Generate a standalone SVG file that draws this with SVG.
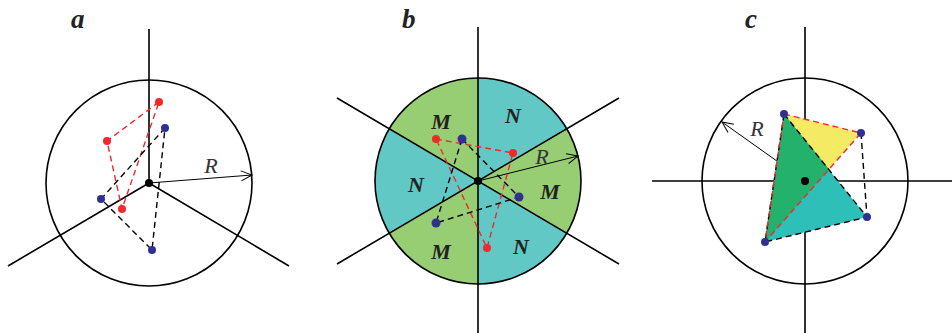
<svg xmlns="http://www.w3.org/2000/svg" width="952" height="333" viewBox="0 0 952 333">
<style>
.ax{stroke:#000;stroke-width:1.6;fill:none}
.circ{stroke:#000;stroke-width:1.6;fill:none}
.rad{stroke:#000;stroke-width:1;fill:none}
.rd{stroke:#EE2A2A;stroke-width:1.4;stroke-dasharray:6,4;fill:none}
.bk{stroke:#000;stroke-width:1.4;stroke-dasharray:6,4;fill:none}
.bdot{fill:#2E3192}
.rdot{fill:#EE2A2A}
.lbl{font-family:"Liberation Serif",serif;font-style:italic;font-weight:bold;font-size:27px;fill:#222}
.sec{font-family:"Liberation Serif",serif;font-style:italic;font-weight:bold;font-size:22px;fill:#222;text-anchor:middle}
.rl{font-family:"Liberation Serif",serif;font-style:italic;font-size:22px;fill:#333;text-anchor:middle}
</style>
<defs>
<marker id="arr" markerWidth="14" markerHeight="12" refX="12" refY="6" orient="auto" markerUnits="userSpaceOnUse">
<path d="M1,1 L12,6 L1,11" fill="none" stroke="#000" stroke-width="1"/>
</marker>
</defs>

<g id="panel-a">
<text class="lbl" x="71" y="28">a</text>
<circle class="circ" cx="149" cy="183" r="103"/>
<path class="ax" d="M149,29 L149,183 M149,183 L8,266 M149,183 L289,266"/>
<line class="rad" x1="149" y1="183" x2="252" y2="175" marker-end="url(#arr)"/>
<text class="rl" x="211" y="173">R</text>
<polygon class="rd" points="159,102 107,141 122,209"/>
<polygon class="bk" points="165,128 101,199 152,250"/>
<circle class="rdot" cx="159" cy="102" r="4"/>
<circle class="rdot" cx="107" cy="141" r="4"/>
<circle class="rdot" cx="122" cy="209" r="4"/>
<circle class="bdot" cx="165" cy="128" r="4"/>
<circle class="bdot" cx="101" cy="199" r="4"/>
<circle class="bdot" cx="152" cy="250" r="4"/>
<circle cx="149" cy="183" r="4"/>
</g>

<g id="panel-b">
<text class="lbl" x="402" y="28">b</text>
<path d="M478,181 L478,78 A103,103 0 0 0 388.8,129.5 Z" fill="#98CE73"/>
<path d="M478,181 L478,78 A103,103 0 0 1 567.2,129.5 Z" fill="#62C8C5"/>
<path d="M478,181 L567.2,129.5 A103,103 0 0 1 567.2,232.5 Z" fill="#98CE73"/>
<path d="M478,181 L567.2,232.5 A103,103 0 0 1 478,284 Z" fill="#62C8C5"/>
<path d="M478,181 L478,284 A103,103 0 0 1 388.8,232.5 Z" fill="#98CE73"/>
<path d="M478,181 L388.8,232.5 A103,103 0 0 1 388.8,129.5 Z" fill="#62C8C5"/>
<circle class="circ" cx="478" cy="181" r="103"/>
<path class="ax" d="M478,27 L478,333 M337,98 L619,264 M337,264 L619,98"/>
<text class="sec" x="441" y="129">M</text>
<text class="sec" x="513" y="123">N</text>
<text class="sec" x="416" y="192">N</text>
<text class="sec" x="550" y="199">M</text>
<text class="sec" x="441" y="259">M</text>
<text class="sec" x="521" y="254">N</text>
<line class="rad" x1="478" y1="181" x2="578" y2="156" marker-end="url(#arr)"/>
<text class="rl" x="542" y="164">R</text>
<polygon class="rd" points="436,139 513,153 487,248"/>
<polygon class="bk" points="462,139 519,197 436,223"/>
<circle class="rdot" cx="436" cy="139" r="4"/>
<circle class="rdot" cx="513" cy="153" r="4"/>
<circle class="rdot" cx="487" cy="248" r="4"/>
<circle class="bdot" cx="462" cy="139" r="4.5"/>
<circle class="bdot" cx="519" cy="197" r="4.5"/>
<circle class="bdot" cx="436" cy="223" r="4.5"/>
<circle cx="478" cy="181" r="4"/>
</g>

<g id="panel-c">
<text class="lbl" x="745" y="28">c</text>
<circle class="circ" cx="805" cy="181" r="103"/>
<path class="ax" d="M652,181 L952,181 M805,27 L805,333"/>
<line class="rad" x1="805" y1="181" x2="722" y2="122" marker-end="url(#arr)"/>
<text class="rl" x="757" y="136">R</text>
<polygon points="784,114 861,133 765,242" fill="#F4EA64"/>
<polygon points="784,114 867,217 765,242" fill="#2EC0B8"/>
<polygon points="784,114 829,169 765,242" fill="#24B16B"/>
<path class="bk" d="M784,114 L867,217 L765,242 L784,114 M861,133 L867,217"/>
<polygon class="rd" points="784,114 861,133 765,242"/>
<circle class="bdot" cx="784" cy="114" r="4"/>
<circle class="bdot" cx="861" cy="133" r="4"/>
<circle class="bdot" cx="867" cy="217" r="4"/>
<circle class="bdot" cx="765" cy="242" r="4"/>
<circle cx="805" cy="181" r="4"/>
</g>
</svg>
